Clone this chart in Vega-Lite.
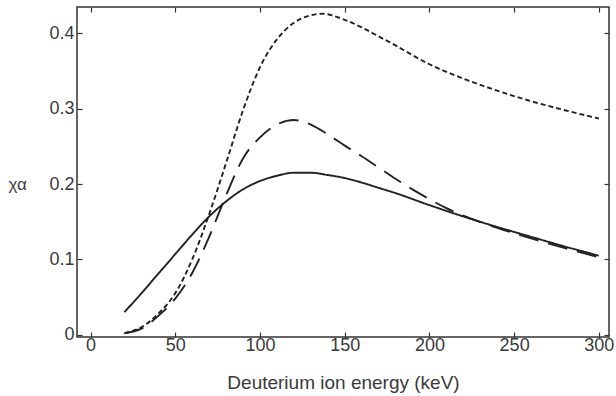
{
  "$schema": "https://vega.github.io/schema/vega-lite/v6.json",
  "width": 532,
  "height": 330,
  "autosize": "none",
  "padding": {"left": 77, "top": 7, "right": 7, "bottom": 59},
  "background": "white",
  "config": {
    "view": {"stroke": "#333", "strokeWidth": 1.5},
    "font": "Liberation Sans",
    "axis": {"domain": false, "grid": false, "labelFont": "Liberation Sans", "titleFont": "Liberation Sans", "labelColor": "#3a3a3a", "titleColor": "#3a3a3a", "labelFontSize": 18, "titleFontSize": 19, "titleFontWeight": "normal", "tickColor": "#333", "tickSize": -5, "tickWidth": 1.2}
  },
  "data": {"values": [
    {"E": 20, "chi": 0.030, "s": "solid"},
    {"E": 30, "chi": 0.055, "s": "solid"},
    {"E": 40, "chi": 0.081, "s": "solid"},
    {"E": 50, "chi": 0.107, "s": "solid"},
    {"E": 60, "chi": 0.133, "s": "solid"},
    {"E": 70, "chi": 0.157, "s": "solid"},
    {"E": 80, "chi": 0.177, "s": "solid"},
    {"E": 90, "chi": 0.193, "s": "solid"},
    {"E": 100, "chi": 0.204, "s": "solid"},
    {"E": 110, "chi": 0.211, "s": "solid"},
    {"E": 120, "chi": 0.215, "s": "solid"},
    {"E": 130, "chi": 0.215, "s": "solid"},
    {"E": 140, "chi": 0.212, "s": "solid"},
    {"E": 150, "chi": 0.208, "s": "solid"},
    {"E": 160, "chi": 0.202, "s": "solid"},
    {"E": 170, "chi": 0.195, "s": "solid"},
    {"E": 180, "chi": 0.188, "s": "solid"},
    {"E": 200, "chi": 0.172, "s": "solid"},
    {"E": 220, "chi": 0.157, "s": "solid"},
    {"E": 240, "chi": 0.143, "s": "solid"},
    {"E": 260, "chi": 0.130, "s": "solid"},
    {"E": 280, "chi": 0.117, "s": "solid"},
    {"E": 300, "chi": 0.105, "s": "solid"},
    {"E": 20, "chi": 0.002, "s": "short"},
    {"E": 30, "chi": 0.010, "s": "short"},
    {"E": 40, "chi": 0.028, "s": "short"},
    {"E": 50, "chi": 0.055, "s": "short"},
    {"E": 60, "chi": 0.100, "s": "short"},
    {"E": 70, "chi": 0.160, "s": "short"},
    {"E": 80, "chi": 0.228, "s": "short"},
    {"E": 90, "chi": 0.298, "s": "short"},
    {"E": 100, "chi": 0.355, "s": "short"},
    {"E": 110, "chi": 0.392, "s": "short"},
    {"E": 120, "chi": 0.414, "s": "short"},
    {"E": 130, "chi": 0.424, "s": "short"},
    {"E": 137, "chi": 0.426, "s": "short"},
    {"E": 150, "chi": 0.418, "s": "short"},
    {"E": 160, "chi": 0.408, "s": "short"},
    {"E": 170, "chi": 0.396, "s": "short"},
    {"E": 180, "chi": 0.384, "s": "short"},
    {"E": 190, "chi": 0.371, "s": "short"},
    {"E": 200, "chi": 0.359, "s": "short"},
    {"E": 220, "chi": 0.340, "s": "short"},
    {"E": 240, "chi": 0.324, "s": "short"},
    {"E": 260, "chi": 0.310, "s": "short"},
    {"E": 280, "chi": 0.298, "s": "short"},
    {"E": 300, "chi": 0.287, "s": "short"},
    {"E": 20, "chi": 0.002, "s": "long"},
    {"E": 30, "chi": 0.008, "s": "long"},
    {"E": 40, "chi": 0.025, "s": "long"},
    {"E": 50, "chi": 0.048, "s": "long"},
    {"E": 60, "chi": 0.082, "s": "long"},
    {"E": 70, "chi": 0.130, "s": "long"},
    {"E": 80, "chi": 0.185, "s": "long"},
    {"E": 90, "chi": 0.234, "s": "long"},
    {"E": 100, "chi": 0.262, "s": "long"},
    {"E": 110, "chi": 0.279, "s": "long"},
    {"E": 120, "chi": 0.285, "s": "long"},
    {"E": 130, "chi": 0.279, "s": "long"},
    {"E": 140, "chi": 0.266, "s": "long"},
    {"E": 150, "chi": 0.251, "s": "long"},
    {"E": 160, "chi": 0.237, "s": "long"},
    {"E": 170, "chi": 0.222, "s": "long"},
    {"E": 180, "chi": 0.207, "s": "long"},
    {"E": 190, "chi": 0.193, "s": "long"},
    {"E": 200, "chi": 0.180, "s": "long"},
    {"E": 210, "chi": 0.168, "s": "long"},
    {"E": 220, "chi": 0.158, "s": "long"},
    {"E": 240, "chi": 0.142, "s": "long"},
    {"E": 260, "chi": 0.128, "s": "long"},
    {"E": 280, "chi": 0.115, "s": "long"},
    {"E": 300, "chi": 0.103, "s": "long"}
  ]},
  "layer": [
    {
      "mark": {"type": "line", "interpolate": "monotone", "color": "#222", "strokeWidth": 1.9},
      "encoding": {
        "x": {"field": "E", "type": "quantitative", "scale": {"domain": [-8, 306], "nice": false, "zero": false},
              "axis": {"values": [0, 50, 100, 150, 200, 250, 300], "title": "Deuterium ion energy (keV)", "titleY": 51, "titleBaseline": "alphabetic", "labelPadding": 4}},
        "y": {"field": "chi", "type": "quantitative", "scale": {"domain": [-0.003, 0.435], "nice": false, "zero": false},
              "axis": {"values": [0, 0.1, 0.2, 0.3, 0.4], "labelExpr": "datum.value == 0 ? '0' : format(datum.value, '.1f')", "title": "χα", "titleFontSize": 17, "titleAngle": 0, "titleAlign": "left", "titleBaseline": "middle", "titleX": -69, "titleY": 177, "labelPadding": 8}},
        "strokeDash": {"field": "s", "type": "nominal", "scale": {"domain": ["solid", "short", "long"], "range": [[1, 0], [5, 3], [20, 10]]}, "legend": null},
        "detail": {"field": "s"}
      }
    },
    {
      "mark": {"type": "line", "opacity": 0},
      "encoding": {
        "x": {"field": "E", "type": "quantitative", "axis": {"orient": "top", "values": [0, 50, 100, 150, 200, 250, 300], "labels": false, "title": null}},
        "y": {"field": "chi", "type": "quantitative", "axis": {"orient": "right", "values": [0, 0.1, 0.2, 0.3, 0.4], "labels": false, "title": null}},
        "detail": {"field": "s"}
      }
    }
  ],
  "resolve": {"axis": {"x": "independent", "y": "independent"}}
}
